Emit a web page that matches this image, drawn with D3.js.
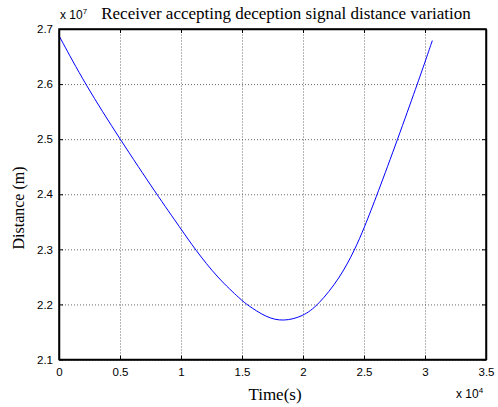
<!DOCTYPE html>
<html lang="en">
<head>
    <meta charset="UTF-8">
    <title>Receiver deception signal distance</title>
    <script src="https://d3js.org/d3.v7.min.js"></script>
    <style>
        body { margin: 0; background: #fff; }
        .tick text { font-family: Arial, "Liberation Sans", sans-serif; font-size: 11.5px; fill: #000; }
        .grid line { stroke: #444; stroke-dasharray: 1,2; stroke-width: 0.8; }
        .grid path { display: none; }
    </style>
</head>
<body>
<div id="chart"></div>
<script>
    // time in units of 1e4 s, distance in units of 1e7 m
    const timeVals = [0, 0.213, 0.5, 0.8, 1.0, 1.115, 1.3, 1.5, 1.538, 1.7, 1.838, 2.0, 2.125, 2.3, 2.426, 2.5, 2.609, 2.776, 2.937, 3.0, 3.06];
    const distVals = [2.688, 2.6, 2.5, 2.4, 2.337, 2.3, 2.248, 2.207, 2.2, 2.176, 2.169, 2.178, 2.199, 2.247, 2.3, 2.338, 2.4, 2.5, 2.6, 2.64, 2.679];
    const xTicks = [0, 0.5, 1, 1.5, 2, 2.5, 3, 3.5];
    const yTicks = [2.1, 2.2, 2.3, 2.4, 2.5, 2.6, 2.7];

    const data = timeVals.map((t, i) => ({ t: t, d: distVals[i] }));

    const width = 498, height = 407;
    const margin = { top: 29, right: 12, bottom: 47.5, left: 59 };
    const w = width - margin.left - margin.right;
    const h = height - margin.top - margin.bottom;

    const svg = d3.select("#chart").append("svg")
        .attr("width", width)
        .attr("height", height);

    const g = svg.append("g")
        .attr("transform", `translate(${margin.left},${margin.top})`);

    const x = d3.scaleLinear().domain([0, 3.5]).range([0, w]);
    const y = d3.scaleLinear().domain([2.1, 2.7]).range([h, 0]);

    // grid
    g.append("g").attr("class", "grid")
        .attr("transform", `translate(0,${h})`)
        .call(d3.axisBottom(x).tickValues(xTicks).tickSize(-h).tickFormat(""));
    g.append("g").attr("class", "grid")
        .call(d3.axisLeft(y).tickValues(yTicks).tickSize(-w).tickFormat(""));

    // curve
    g.append("path")
        .datum(data)
        .attr("fill", "none")
        .attr("stroke", "#0000ff")
        .attr("stroke-width", 1)
        .attr("d", d3.line()
            .x(d => x(d.t))
            .y(d => y(d.d))
            .curve(d3.curveBasis));

    // axes with inward ticks
    g.append("g")
        .attr("transform", `translate(0,${h})`)
        .call(d3.axisBottom(x).tickValues(xTicks).tickSizeInner(-4).tickSizeOuter(0).tickPadding(8)
            .tickFormat(d => d));
    g.append("g")
        .call(d3.axisLeft(y).tickValues(yTicks).tickSizeInner(-4).tickSizeOuter(0).tickPadding(6)
            .tickFormat(d3.format(".1f")));
    g.append("g")
        .call(d3.axisTop(x).tickValues(xTicks).tickSizeInner(-4).tickSizeOuter(0).tickFormat(""));
    g.append("g")
        .attr("transform", `translate(${w},0)`)
        .call(d3.axisRight(y).tickValues(yTicks).tickSizeInner(-4).tickSizeOuter(0).tickFormat(""));

    g.selectAll(".domain").attr("stroke", "#000").attr("stroke-width", 1.5);
    g.selectAll(".tick line").filter(function () { return !this.closest(".grid"); })
        .attr("stroke", "#000");

    // box
    g.append("rect")
        .attr("width", w).attr("height", h)
        .attr("fill", "none").attr("stroke", "#000").attr("stroke-width", 1.5);

    // exponent labels
    const expY = svg.append("text")
        .attr("x", margin.left + 1).attr("y", 19)
        .style("font-family", "Arial, 'Liberation Sans', sans-serif").style("font-size", "12px");
    expY.append("tspan").text("x 10");
    expY.append("tspan").attr("dy", -5).style("font-size", "8px").text("7");

    const expX = svg.append("text")
        .attr("x", 456).attr("y", 398)
        .style("font-family", "Arial, 'Liberation Sans', sans-serif").style("font-size", "12px");
    expX.append("tspan").text("x 10");
    expX.append("tspan").attr("dy", -5).style("font-size", "8px").text("4");

    // title and labels
    svg.append("text")
        .attr("x", 286).attr("y", 19)
        .attr("text-anchor", "middle")
        .style("font-family", "'Liberation Serif', 'Times New Roman', serif")
        .style("font-size", "17px")
        .text("Receiver accepting deception signal distance variation");

    svg.append("text")
        .attr("x", 275).attr("y", 400)
        .attr("text-anchor", "middle")
        .style("font-family", "'Liberation Serif', 'Times New Roman', serif")
        .style("font-size", "17px")
        .text("Time(s)");

    svg.append("text")
        .attr("transform", "translate(24,208) rotate(-90)")
        .attr("text-anchor", "middle")
        .style("font-family", "'Liberation Serif', 'Times New Roman', serif")
        .style("font-size", "16px")
        .text("Distance (m)");
</script>
</body>
</html>
